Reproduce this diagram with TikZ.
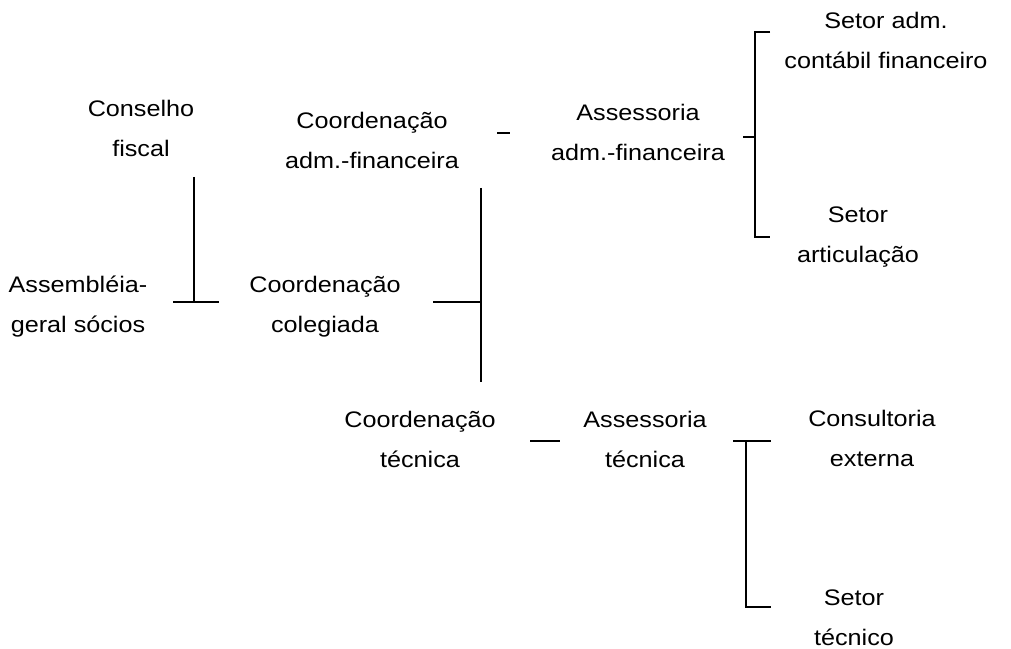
\documentclass[tikz,border=0pt]{standalone}
\usepackage{fontspec}
\setmainfont{Liberation Sans}[FakeStretch=1.12]
\begin{document}
	\begin{tikzpicture}[
			x=0.025cm, y=-0.025cm,
			unit/.style={align=center, inner sep=0pt, font=\fontsize{16}{28.45}\selectfont},
			link/.style={line width=1.2pt}
		]
		\useasboundingbox (0,0) rectangle (1011,649);
		% units
		\node[unit] (consfisc) at (141,128) {Conselho\\fiscal};
		\node[unit] (assemb) at (78,307) {Assembléia-\\geral sócios};
		\node[unit] (coordadm) at (372,140) {Coordenação\\adm.-financeira};
		\node[unit] (coordcol) at (325,307) {Coordenação\\colegiada};
		\node[unit] (assadm) at (638,132) {Assessoria\\adm.-financeira};
		\node[unit] (setadm) at (886,40) {Setor adm.\\contábil financeiro};
		\node[unit] (setart) at (858,237) {Setor\\articulação};
		\node[unit] (coordtec) at (420,439) {Coordenação\\técnica};
		\node[unit] (asstec) at (645,439) {Assessoria\\técnica};
		\node[unit] (consext) at (872,438) {Consultoria\\externa};
		\node[unit] (settec) at (854,618) {Setor\\técnico};
		% junctions
		\coordinate (fiscup) at (194,177);
		\coordinate (fiscdn) at (194,302);
		\coordinate (assr) at (173,302);
		\coordinate (colgl) at (219,302);
		\coordinate (colgr) at (433,302);
		\coordinate (axis) at (481,302);
		\coordinate (axisup) at (481,188);
		\coordinate (axisdn) at (481,382);
		\coordinate (admdl) at (497,133);
		\coordinate (admdr) at (510,133);
		\coordinate (brtop) at (755,32);
		\coordinate (brmid) at (755,137);
		\coordinate (brbot) at (755,237);
		\coordinate (tecdl) at (530,441);
		\coordinate (tecdr) at (560,441);
		\coordinate (brtecl) at (733,441);
		\coordinate (brtec) at (746,441);
		\coordinate (brtecbot) at (746,607);
		% connectors
		\draw[link] (fiscup) -- (fiscdn);
		\draw[link] (assr) -- (colgl);
		\draw[link] (colgr) -- (axis);
		\draw[link] (axisup) -- (axisdn);
		\draw[link] (admdl) -- (admdr);
		\draw[link] (brtop) ++(15,0) -- (brtop) -- (brbot) -- ++(15,0);
		\draw[link] (brmid) -- ++(-12,0);
		\draw[link] (tecdl) -- (tecdr);
		\draw[link] (brtecl) -- ++(38,0);
		\draw[link] (brtec) -- (brtecbot) -- ++(25,0);
	\end{tikzpicture}
\end{document}
